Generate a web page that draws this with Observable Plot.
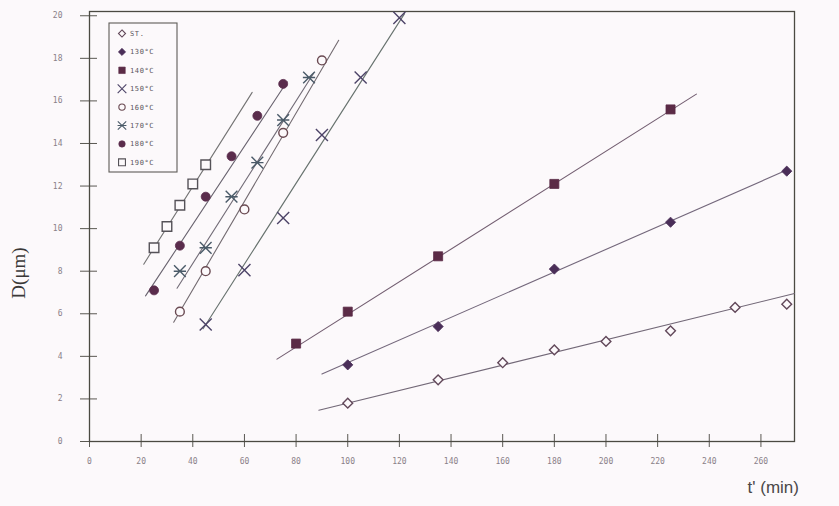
<!DOCTYPE html>
<html>
<head>
<meta charset="utf-8">
<script src="https://cdn.jsdelivr.net/npm/d3@7"></script>
<script src="https://cdn.jsdelivr.net/npm/@observablehq/plot@0.6"></script>
<style>
  html, body { margin: 0; padding: 0; background: #fcf9fb; }
  #wrap { position: relative; width: 839px; height: 506px; overflow: hidden; }
  #wrap svg.plot { position: absolute; left: 0; top: 0; }
  .ylab {
    position: absolute; left: 19px; top: 273px;
    transform: translate(-50%, -50%) rotate(-90deg);
    font: 19px "Liberation Serif", "DejaVu Serif", serif; color: #3a3838;
    white-space: nowrap;
  }
  .xlab {
    position: absolute; right: 40px; top: 478px;
    font: 17px "Liberation Sans", Arial, sans-serif; color: #4a4848;
    white-space: nowrap;
  }
  #legend { position: absolute; left: 0; top: 0; }
</style>
</head>
<body>
<div id="wrap">
  <div class="ylab">D(μm)</div>
  <div class="xlab">t' (min)</div>
</div>
<script>
// Growth of D (µm) with holding time t' (min), as-quenched (ST.) and aged at 130–190 °C.

const series = ["ST.", "130°C", "140°C", "150°C", "160°C", "170°C", "180°C", "190°C"];

// measured points, one pair of arrays per series
const tST  = [100, 135, 160, 180, 200, 225, 250, 270];
const dST  = [1.8, 2.9, 3.7, 4.3, 4.7, 5.2, 6.3, 6.45];
const t130 = [100, 135, 180, 225, 270];
const d130 = [3.6, 5.4, 8.1, 10.3, 12.7];
const t140 = [80, 100, 135, 180, 225];
const d140 = [4.6, 6.1, 8.7, 12.1, 15.6];
const t150 = [45, 60, 75, 90, 105, 120];
const d150 = [5.5, 8.05, 10.5, 14.4, 17.1, 19.9];
const t160 = [35, 45, 60, 75, 90];
const d160 = [6.1, 8.0, 10.9, 14.5, 17.9];
const t170 = [35, 45, 55, 65, 75, 85];
const d170 = [8.0, 9.1, 11.5, 13.1, 15.1, 17.1];
const t180 = [25, 35, 45, 55, 65, 75];
const d180 = [7.1, 9.2, 11.5, 13.4, 15.3, 16.8];
const t190 = [25, 30, 35, 40, 45];
const d190 = [9.1, 10.1, 11.1, 12.1, 13.0];

// fitted straight line of each series: [t', D] at its two ends
const fitStart = [[88.8, 1.47], [90, 3.17], [72.6, 3.87], [44, 5.3], [32.6, 5.6], [33.9, 7.2], [21.7, 6.84], [21, 8.33]];
const fitEnd   = [[273, 6.95], [270, 12.75], [235, 16.32], [122, 20.1], [96.5, 18.85], [86.8, 17.3], [76.5, 16.9], [63, 16.4]];

// axis ticks
const xTicks = d3.range(0, 261, 20);
const yTicks = d3.range(0, 21, 2);

// ---- symbols and styling ----
const symX = {
  draw(ctx, size) {
    const r = Math.sqrt(size) * 0.5;
    ctx.moveTo(-r, -r); ctx.lineTo(r, r);
    ctx.moveTo(-r, r); ctx.lineTo(r, -r);
  }
};
const symXBar = {
  draw(ctx, size) {
    const r = Math.sqrt(size) * 0.5;
    ctx.moveTo(-r, -r); ctx.lineTo(r, r);
    ctx.moveTo(-r, r); ctx.lineTo(r, -r);
    ctx.moveTo(-r * 1.05, 0); ctx.lineTo(r * 1.05, 0);
  }
};
const symbols = [d3.symbolDiamond2, d3.symbolDiamond2, d3.symbolSquare, symX,
                 d3.symbolCircle, symXBar, d3.symbolCircle, d3.symbolSquare];
const filled  = [false, true, true, false, false, false, true, false];
const radius  = [4.4, 4.6, 5.1, 6.8, 4.4, 6.6, 4.5, 5.4];
const colors  = ["#62485a", "#4a2e58", "#5b2b46", "#4d4468", "#6a4a52", "#4a5a68", "#5a2c4c", "#555258"];
const lineColor = ["#6a6070", "#6b5f74", "#6a5468", "#5f6a66", "#6a6268", "#6a6470", "#605a66", "#6b6b6b"];

const pointData = [[tST, dST], [t130, d130], [t140, d140], [t150, d150],
                   [t160, d160], [t170, d170], [t180, d180], [t190, d190]];

const marks = [];
series.forEach((name, i) => {
  const [ts, ds] = pointData[i];
  const pts = ts.map((t, k) => ({series: name, t, d: ds[k]}));
  const fit = [fitStart[i], fitEnd[i]].map(([t, d]) => ({series: name, t, d}));
  marks.push(Plot.line(fit, {x: "t", y: "d", stroke: lineColor[i], strokeWidth: 1.1, strokeOpacity: 0.95}));
  marks.push(Plot.dot(pts, {
    x: "t", y: "d", symbol: symbols[i], r: radius[i],
    fill: filled[i] ? colors[i] : "#fcf9fb",
    stroke: colors[i], strokeWidth: filled[i] ? 0.8 : 1.4
  }));
});

const tickStyle = {text: null, label: null, stroke: "#5a5852", strokeWidth: 1};
const labelStyle = {tickSize: 0, label: null, fontSize: 8,
                    fontFamily: "DejaVu Sans Mono, monospace", fill: "#8a8088"};

const chart = Plot.plot({
  width: 839,
  height: 506,
  marginTop: 11,
  marginRight: 45,
  marginBottom: 65,
  marginLeft: 89,
  style: {background: "transparent", overflow: "visible"},
  x: {domain: [0, 273], axis: null},
  y: {domain: [0, 20.2], axis: null},
  marks: [
    // tick marks crossing the axes
    Plot.axisX({ticks: xTicks, tickSize: 6, ...tickStyle}),
    Plot.axisX({ticks: xTicks, tickSize: -7, ...tickStyle}),
    Plot.axisY({ticks: yTicks, tickSize: 9, ...tickStyle}),
    Plot.axisY({ticks: yTicks, tickSize: -8, ...tickStyle}),
    // tick labels
    Plot.axisX({ticks: xTicks, tickPadding: 17, ...labelStyle}),
    Plot.axisY({ticks: yTicks, tickPadding: 27, ...labelStyle}),
    Plot.frame({stroke: "#4b4a42", strokeWidth: 1.3}),
    ...marks
  ]
});
chart.classList.add("plot");
const wrap = document.getElementById("wrap");
wrap.prepend(chart);

// ---- legend box in the upper left of the plot area ----
const leg = d3.select(wrap).append("svg")
  .attr("id", "legend").attr("width", 839).attr("height", 506);
const lx = 109, ly = 23, lw = 68, lh = 149, step = 18.4;
leg.append("rect")
  .attr("x", lx).attr("y", ly).attr("width", lw).attr("height", lh)
  .attr("fill", "#fcf9fb").attr("stroke", "#5e5c58").attr("stroke-width", 1.1);
series.forEach((name, i) => {
  const cy = ly + 10.5 + i * step;
  leg.append("path")
    .attr("transform", `translate(${lx + 13},${cy})`)
    .attr("d", d3.symbol(symbols[i], Math.PI * (radius[i] * 0.72) ** 2)())
    .attr("fill", filled[i] ? colors[i] : "none")
    .attr("stroke", colors[i]).attr("stroke-width", filled[i] ? 0.6 : 1.1);
  leg.append("text")
    .attr("x", lx + 21).attr("y", cy).attr("dy", "0.35em")
    .attr("font-family", "DejaVu Sans Mono, monospace").attr("font-size", 7)
    .attr("letter-spacing", 0.6).attr("fill", "#5a5560")
    .text(name);
});
</script>
</body>
</html>
